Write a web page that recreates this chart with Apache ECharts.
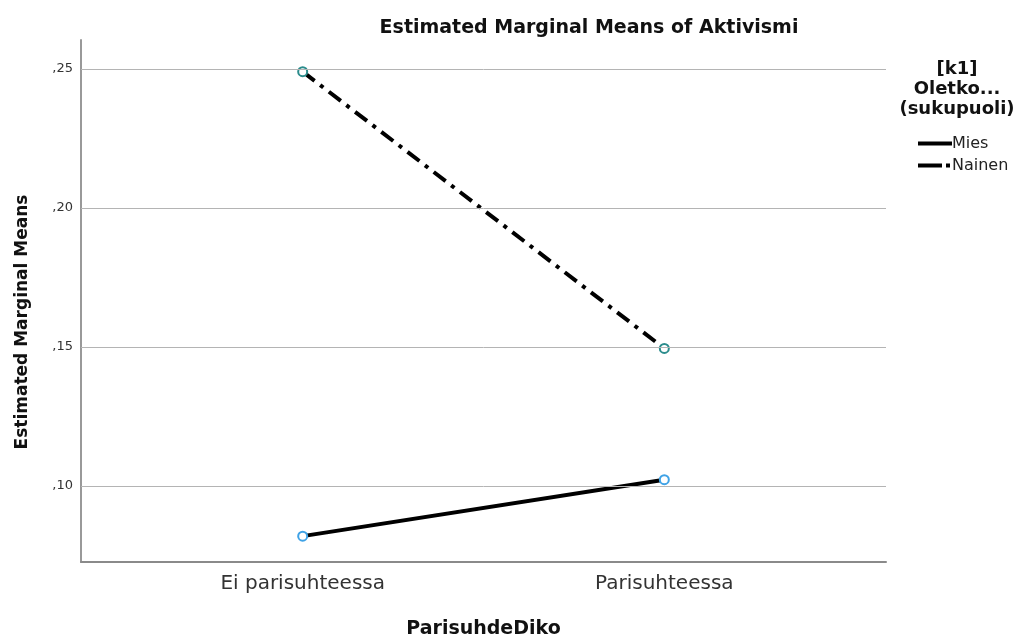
<!DOCTYPE html>
<html><head><meta charset="utf-8">
<script src="https://cdn.jsdelivr.net/npm/echarts@6/dist/echarts.min.js"></script>
<style>html,body{margin:0;padding:0;background:#fff}#c{width:1023px;height:644px}</style>
</head><body><div id="c"></div>
<script>
const categories = ['Ei parisuhteessa', 'Parisuhteessa'];
const miesValues = [0.082, 0.1023];
const nainenValues = [0.249, 0.1495];
const yTicks = [0.10, 0.15, 0.20, 0.25];
const seriesNames = ['Mies', 'Nainen'];
const legendTitle = '[k1]\nOletko...\n(sukupuoli)';

const fmt = v => ',' + Math.round(v * 100).toString().padStart(2, '0');
const font = '"DejaVu Sans", sans-serif';
const chart = echarts.init(document.getElementById('c'));
chart.setOption({
  animation: false,
  title: {
    text: 'Estimated Marginal Means of Aktivismi',
    left: 584, top: 14, textAlign: 'center',
    textStyle: {fontFamily: font, fontWeight: 'bold', fontSize: 19, color: '#111'}
  },
  graphic: [{
    type: 'text', x: 957, y: 59,
    style: {text: legendTitle, align: 'center', verticalAlign: 'top', font: 'bold 18px "DejaVu Sans", sans-serif', fill: '#111', lineHeight: 20}
  }],
  legend: {
    orient: 'vertical', left: 911, top: 130,
    itemWidth: 34, itemHeight: 14, itemGap: 5,
    textStyle: {fontFamily: font, fontSize: 16, color: '#222', padding: [0,0,0,-5], lineHeight: 17},
    itemStyle: {opacity: 0},
    lineStyle: {width: 4},
    data: [
      {name: seriesNames[0]},
      {name: seriesNames[1], lineStyle: {width: 4, type: [24, 4, 4, 20]}}
    ]
  },
  grid: {left: 81, right: 137, top: 40, bottom: 81},
  xAxis: {
    type: 'value', min: -0.613, max: 1.613,
    name: 'ParisuhdeDiko', nameLocation: 'middle', nameGap: 58,
    nameTextStyle: {fontFamily: font, fontWeight: 'bold', fontSize: 19, color: '#111'},
    axisLine: {show: true, onZero: false, lineStyle: {color: '#8a8a8a', width: 2}},
    axisTick: {show: false},
    splitLine: {show: false},
    axisLabel: {customValues: [0, 1], formatter: v => categories[Math.round(v)], fontFamily: font, fontSize: 20, color: '#333', margin: 12}
  },
  yAxis: {
    type: 'value', min: 0.0727, max: 0.2604,
    name: 'Estimated Marginal Means', nameLocation: 'middle', nameGap: 50, nameRotate: 90,
    nameTextStyle: {fontFamily: font, fontWeight: 'bold', fontSize: 17, color: '#111', padding: [0, 42, 0, 0]},
    axisLine: {show: true, onZero: false, lineStyle: {color: '#999', width: 2}},
    axisTick: {show: false},
    splitLine: {show: false},
    axisLabel: {customValues: yTicks, formatter: fmt, fontFamily: font, fontSize: 13, color: '#333', margin: 8}
  },
  series: [
    {
      name: seriesNames[0], type: 'line',
      data: miesValues.map((v, i) => [i, v]),
      symbol: 'emptyCircle', symbolSize: 9,
      lineStyle: {color: '#000', width: 4},
      itemStyle: {color: '#3fa2e6', borderWidth: 2},
      markLine: {
        silent: true, symbol: 'none', label: {show: false},
        lineStyle: {color: '#b4b4b4', width: 1, type: 'solid'},
        data: yTicks.map(v => ({yAxis: v}))
      },
      z: 3
    },
    {
      name: seriesNames[1], type: 'line',
      data: nainenValues.map((v, i) => [i, v]),
      symbol: 'emptyCircle', symbolSize: 9,
      lineStyle: {color: '#000', width: 4, type: [15, 7, 4, 7]},
      itemStyle: {color: '#2b8c8c', borderWidth: 2},
      z: 3
    }
  ]
});
</script></body></html>
